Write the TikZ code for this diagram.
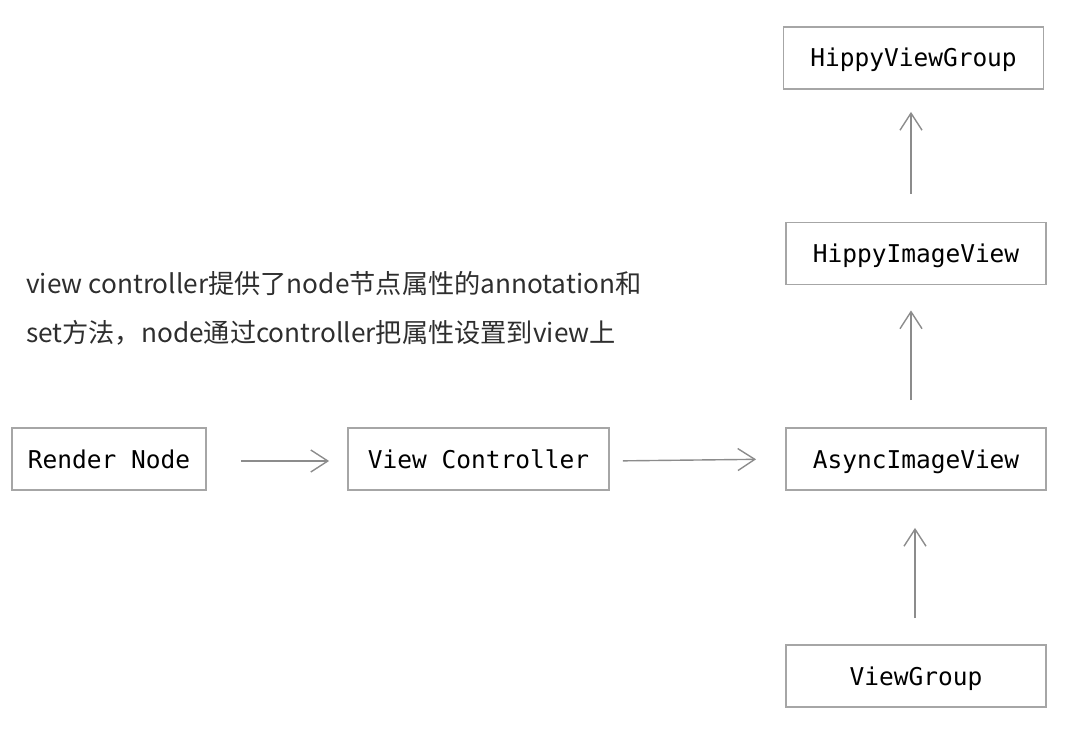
\documentclass[tikz,border=0pt]{standalone}
\usepackage{fontspec}
\usetikzlibrary{arrows.meta}
\setmonofont{DejaVu Sans Mono}
\newfontfamily\cjk{Noto Sans CJK SC}
\definecolor{boxgray}{HTML}{A6A6A6}
\definecolor{arrgray}{HTML}{8C8C8C}

\begin{document}
\begin{tikzpicture}[x=1pt, y=-1pt,
        viewbox/.style={draw=boxgray, line width=1.8pt, minimum width=260pt, minimum height=62pt,
                inner sep=0pt, text height=18pt, text depth=0pt, font=\ttfamily\fontsize{24.5}{28}\selectfont},
        arr/.style={draw=arrgray, line width=1.4pt, -{Straight Barb[length=17pt, width=22pt, line width=1.4pt]}},
        note/.style={anchor=base west, inner sep=0pt, text=black!82, font=\cjk\fontsize{26.2}{30}\selectfont}]
        \useasboundingbox (0, 0) rectangle (1078, 743);
        % boxes
        \node[viewbox] (group) at (913.5, 58) {HippyViewGroup};
        \node[viewbox] (image) at (916, 253.5) {HippyImageView};
        \node[viewbox] (async) at (916, 459) {AsyncImageView};
        \node[viewbox] (vgroup) at (916, 676) {ViewGroup};
        \node[viewbox, minimum width=194pt] (render) at (109, 459) {Render Node};
        \node[viewbox, minimum width=261pt] (control) at (478.5, 459) {View Controller};
        % note
        \node[note] (note1) at (26, 293) {view controller提供了node节点属性的annotation和};
        \node[note] (note2) at (26, 342) {set方法，node通过controller把属性设置到view上};
        % arrows
        \draw[arr, shorten <=34pt, shorten >=18pt] ([yshift=-2pt]render.east) -- ([yshift=-2pt]control.west);
        \draw[arr, shorten <=13pt, shorten >=29pt] ([yshift=-2pt]control.east) -- (async.west);
        \draw[arr, shorten <=27pt, shorten >=25pt] ([xshift=-5pt]async.north) -- ([xshift=-5pt]image.south);
        \draw[arr, shorten <=28pt, shorten >=22pt] ([xshift=-5pt]image.north) -- ([xshift=-2.5pt]group.south);
        \draw[arr, shorten <=26pt, shorten >=37pt] ([xshift=-1pt]vgroup.north) -- ([xshift=-1pt]async.south);
\end{tikzpicture}
\end{document}
